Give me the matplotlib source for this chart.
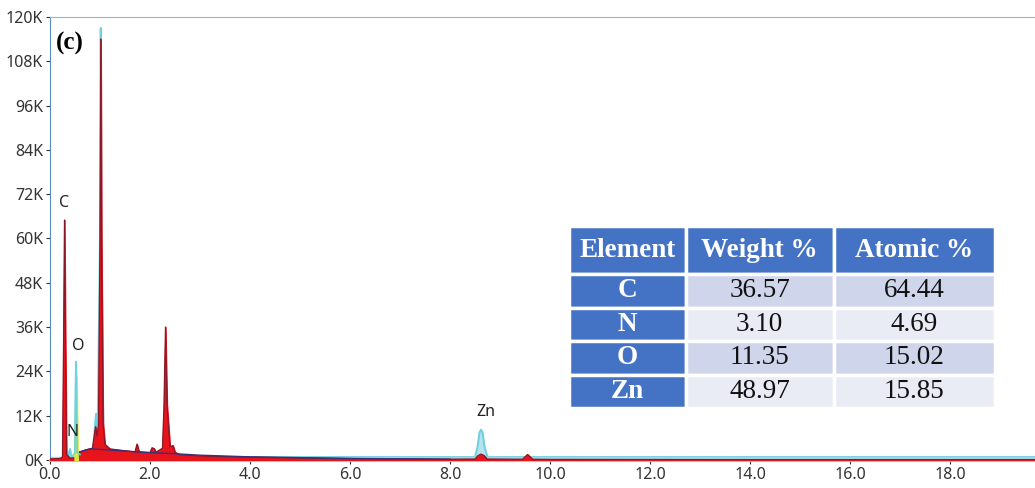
import matplotlib.pyplot as plt
import numpy as np

energy = [0.00, 0.20, 0.25, 0.27, 0.29, 0.31, 0.33, 0.40, 0.50, 0.56, 0.70, 0.85, 0.88,
          0.91, 0.94, 0.97, 1.00, 1.015, 1.03, 1.06, 1.10, 1.20, 1.50, 1.70, 1.74, 1.78,
          2.00, 2.04, 2.08, 2.12, 2.25, 2.28, 2.31, 2.34, 2.40, 2.46, 2.50, 2.60, 3.0,
          4.0, 5.0, 6.0, 7.0, 8.0, 8.5, 8.56, 8.62, 8.68, 8.74, 9.45, 9.55, 9.65, 10.0,
          14.0, 19.7]
counts = [300, 400, 800, 30000, 65000, 30000, 1500, 500, 600, 2000, 2700, 3200, 6000,
          9000, 6500, 9500, 60000, 114000, 60000, 10000, 4200, 3000, 2500, 2200, 4300, 2200,
          2000, 3300, 3100, 2100, 3200, 15000, 36000, 15000, 3600, 3900, 2100, 1400, 1100,
          750, 550, 380, 280, 220, 250, 1200, 1600, 1200, 250, 200, 1500, 200, 150,
          100, 100]

# fitted / overlay trace (cyan)
fit_energy = [0.00, 0.35, 0.40, 0.43, 0.50, 0.52, 0.545, 0.60, 0.85, 0.88, 0.92, 0.95,
              1.00, 1.015, 1.03, 1.07, 1.2, 3.0, 8.5, 8.55, 8.59, 8.62, 8.65, 8.69, 8.75,
              19.7]
fit_counts = [500, 500, 3000, 500, 2000, 26600, 2000, 1500, 2500, 6000, 12500, 5000,
              60000, 117000, 60000, 2000, 1200, 800, 800, 3500, 7500, 8200, 7500, 3500, 800,
              800]

# O line (yellow)
o_energy = [0.49, 0.51, 0.535, 0.555]
o_counts = [0, 22500, 22500, 0]

# continuum outline
bg_energy = [0.55, 0.8, 1.1, 1.5, 2.0, 2.5, 3.0, 4.0, 6.0, 8.0]
bg_counts = [2000, 3000, 2800, 2400, 2000, 1700, 1300, 850, 420, 220]

peak_labels = ['C', 'O', 'N', 'Zn']
peak_pos = [(0.28, 67500), (0.56, 28800), (0.45, 5500), (8.72, 10800)]

elements = ['C', 'N', 'O', 'Zn']
weight = ['36.57', '3.10', '11.35', '48.97']
atomic = ['64.44', '4.69', '15.02', '15.85']
headers = ['Element', 'Weight %', 'Atomic %']

yticks = np.arange(0, 120001, 12000)
ytick_labels = ['%dK' % (v // 1000) for v in yticks]
xticks = np.arange(0, 19, 2.0)

fig = plt.figure(figsize=(10.35, 4.88), dpi=100)
ax = fig.add_axes([0.0483, 0.0574, 0.9517, 0.908])

ax.fill_between(fit_energy, fit_counts, color='#a9dfea', alpha=0.85, zorder=1)
ax.plot(fit_energy, fit_counts, color='#6fd0e0', lw=1.4, zorder=2)
ax.fill_between(energy, counts, color='#e8141c', zorder=3)
ax.plot(energy, counts, color='#8a1828', lw=0.9, zorder=4)
ax.plot(bg_energy, bg_counts, color='#3b2f7a', lw=1.0, zorder=4)
ax.fill_between(o_energy, o_counts, color='#d8ec3c', zorder=5)
ax.plot(fit_energy[4:8], fit_counts[4:8], color='#6fd0e0', lw=1.2, zorder=6)
ax.axhline(600, color='#9fd6e6', lw=2.5, zorder=2)

for lab, (px, py) in zip(peak_labels, peak_pos):
    ax.text(px, py, lab, fontsize=11.5, family='Noto Sans', color='#222222',
            ha='center', va='bottom', zorder=7)

ax.text(0.006, 0.965, '(c)', transform=ax.transAxes, fontsize=18, fontweight='bold',
        family='Liberation Serif', va='top', ha='left')

ax.set_xlim(0, 19.7)
ax.set_ylim(0, 120000)
ax.set_yticks(yticks)
ax.set_yticklabels(ytick_labels)
ax.set_xticks(xticks)
ax.set_xticklabels(['%.1f' % v for v in xticks])
ax.tick_params(labelsize=11.5, colors='#333333', length=3, width=0.8, pad=2)
for lab in ax.get_xticklabels() + ax.get_yticklabels():
    lab.set_family('Noto Sans')
ax.spines['right'].set_visible(False)
ax.spines['left'].set_color('#5a8cc4')
ax.spines['top'].set_color('#9db3c8')
ax.spines['bottom'].set_color('#8fcde0')
ax.spines['bottom'].set_linewidth(2)

cells = [[e, w, a] for e, w, a in zip(elements, weight, atomic)]
tab = ax.table(cellText=cells, colLabels=headers, bbox=[0.527, 0.117, 0.432, 0.411],
               cellLoc='center', colWidths=[115, 146, 159])
tab.auto_set_font_size(False)
blue = '#4472c4'
row_fill = ['#cfd5ea', '#e9ebf5', '#cfd5ea', '#e9ebf5']
for (r, c), cell in tab.get_celld().items():
    cell.set_edgecolor('white')
    cell.set_linewidth(2.5)
    txt = cell.get_text()
    txt.set_family('Liberation Serif')
    txt.set_fontsize(19.5)
    if r == 0:
        cell.set_height(46)
        cell.set_facecolor(blue)
        txt.set_color('white')
        txt.set_fontweight('bold')
    else:
        cell.set_height(32)
        if c == 0:
            cell.set_facecolor(blue)
            txt.set_color('white')
            txt.set_fontweight('bold')
        else:
            cell.set_facecolor(row_fill[r - 1])
            txt.set_color('#111111')

fig.savefig('out.png', dpi=100)
